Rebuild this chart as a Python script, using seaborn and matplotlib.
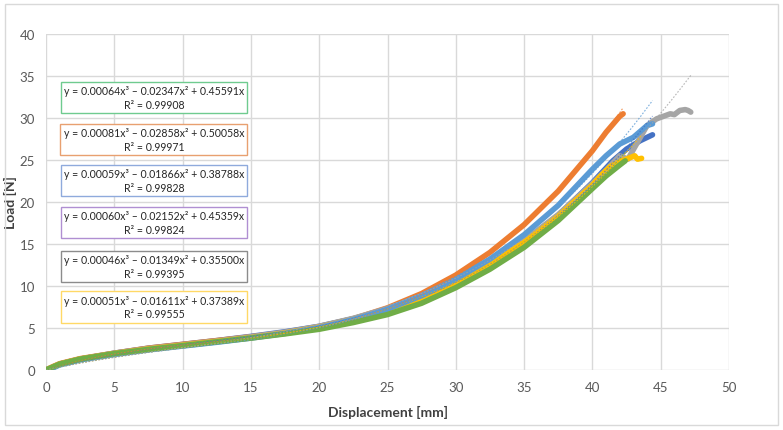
import numpy as np
import pandas as pd
import matplotlib
matplotlib.use("Agg")
import matplotlib.pyplot as plt
import seaborn as sns
from matplotlib.patches import FancyBboxPatch

# ---------------- data ----------------
series_names = ["Dark blue", "Orange", "Gray", "Yellow", "Light blue", "Green"]
series_colors = ["#4472C4", "#ED7D31", "#A5A5A5", "#FFC000", "#5B9BD5", "#70AD47"]

x_db = [0, 0.5, 1, 2.5, 5, 7.5, 10, 12.5, 15, 17.5, 20, 22.5, 25, 27.5, 30, 32.5, 35, 37.5, 40, 41.5, 42.5, 43.5, 44.4]
y_db = [0, 0.3, 0.7, 1.3, 2.0, 2.6, 3.05, 3.5, 4.0, 4.55, 5.2, 6.1, 7.2, 8.6, 10.4, 12.5, 15.2, 18.4, 22.3, 24.9, 26.3, 27.3, 28.0]

x_or = [0, 0.5, 1, 2.5, 5, 7.5, 10, 12.5, 15, 17.5, 20, 22.5, 25, 27.5, 30, 32.5, 35, 37.5, 40, 41, 42, 42.25]
y_or = [0, 0.4, 0.75, 1.35, 2.0, 2.6, 3.05, 3.5, 3.95, 4.45, 5.15, 6.1, 7.4, 9.1, 11.3, 14.0, 17.3, 21.3, 26.1, 28.3, 30.2, 30.5]

x_gr = [0, 0.5, 1, 2.5, 5, 7.5, 10, 12.5, 15, 17.5, 20, 22.5, 25, 27.5, 30, 32.5, 35, 37.5, 40, 41, 42, 42.6, 43.3, 44, 44.7, 45.2, 45.7, 46.0, 46.4, 46.8, 47.0, 47.2]
y_gr = [0, 0.35, 0.7, 1.3, 2.0, 2.55, 3.0, 3.45, 3.95, 4.5, 5.2, 6.15, 7.3, 8.8, 10.6, 12.8, 15.4, 18.5, 22.2, 23.8, 25.5, 25.1, 27.1, 29.1, 29.9, 30.2, 30.5, 30.4, 30.9, 31.0, 30.9, 30.7]

x_ye = [0, 0.5, 1, 2.5, 5, 7.5, 10, 12.5, 15, 17.5, 20, 22.5, 25, 27.5, 30, 32.5, 35, 37.5, 40, 40.6, 41.3, 42.0, 42.8, 43.1, 43.3, 43.6]
y_ye = [0, 0.35, 0.7, 1.3, 1.95, 2.5, 2.95, 3.4, 3.85, 4.4, 5.1, 6.0, 7.15, 8.6, 10.4, 12.6, 15.2, 18.3, 22.0, 23.1, 24.2, 24.8, 25.3, 25.5, 25.1, 25.2]

x_lb = [0, 0.5, 1, 2.5, 5, 7.5, 10, 12.5, 15, 17.5, 20, 22.5, 25, 27.5, 30, 32.5, 35, 37.5, 40, 41, 42, 43, 44, 44.4]
y_lb = [0, 0.25, 0.6, 1.2, 1.85, 2.4, 2.85, 3.3, 3.8, 4.35, 5.05, 6.0, 7.25, 8.85, 10.8, 13.2, 16.1, 19.6, 23.9, 25.5, 26.9, 27.7, 29.1, 29.3]

x_gn = [0, 0.5, 1, 2.5, 5, 7.5, 10, 12.5, 15, 17.5, 20, 22.5, 25, 27.5, 30, 32.5, 35, 37.5, 40, 41, 42, 42.4]
y_gn = [0, 0.35, 0.7, 1.3, 1.95, 2.45, 2.9, 3.35, 3.8, 4.3, 4.85, 5.65, 6.6, 7.95, 9.8, 12.0, 14.6, 17.8, 21.6, 23.1, 24.4, 24.9]

xs = [x_db, x_or, x_gr, x_ye, x_lb, x_gn]
ys = [y_db, y_or, y_gr, y_ye, y_lb, y_gn]

# polynomial trendline coefficients (a, b, c) for a*x^3 + b*x^2 + c*x
coef_db = [0.00060, -0.02152, 0.45359]
coef_or = [0.00081, -0.02858, 0.50058]
coef_gr = [0.00046, -0.01349, 0.35500]
coef_ye = [0.00051, -0.01611, 0.37389]
coef_lb = [0.00059, -0.01866, 0.38788]
coef_gn = [0.00064, -0.02347, 0.45591]
coefs = [coef_db, coef_or, coef_gr, coef_ye, coef_lb, coef_gn]

# equation labels (top to bottom in the chart)
eq_labels = [
    "y = 0.00064x³ – 0.02347x² + 0.45591x\nR² = 0.99908",
    "y = 0.00081x³ – 0.02858x² + 0.50058x\nR² = 0.99971",
    "y = 0.00059x³ – 0.01866x² + 0.38788x\nR² = 0.99828",
    "y = 0.00060x³ – 0.02152x² + 0.45359x\nR² = 0.99824",
    "y = 0.00046x³ – 0.01349x² + 0.35500x\nR² = 0.99395",
    "y = 0.00051x³ – 0.01611x² + 0.37389x\nR² = 0.99555",
]
eq_box_colors = ["#6FCB8F", "#E8A070", "#8FAADC", "#B08FD2", "#8C8C8C", "#FFD966"]
eq_y = [32.4, 27.4, 22.6, 17.6, 12.3, 7.5]

x_ticks = [0, 5, 10, 15, 20, 25, 30, 35, 40, 45, 50]
y_ticks = [0, 5, 10, 15, 20, 25, 30, 35, 40]

# ---------------- plot ----------------
sns.set_theme(style="white")
plt.rcParams["font.family"] = ["Lato", "DejaVu Sans"]

fig = plt.figure(figsize=(7.83, 4.31), dpi=100)
ax = fig.add_axes([46 / 783, 1 - 371 / 431, (729 - 46) / 783, (371 - 35) / 431])

# outer chart border
fig.patches.append(FancyBboxPatch((5 / 783, 5 / 431), 773 / 783, 421 / 431,
                                  boxstyle="square,pad=0", transform=fig.transFigure,
                                  fill=False, edgecolor="#D9D9D9", linewidth=1.0))

for name, x, y, col, cf in zip(series_names, xs, ys, series_colors, coefs):
    df = pd.DataFrame({"x": x, "y": y})
    sns.lineplot(data=df, x="x", y="y", sort=False, color=col, lw=4.0,
                 ax=ax, estimator=None, solid_capstyle="round",
                 solid_joinstyle="round", zorder=3)
    xt = np.linspace(0, max(x), 200)
    yt = np.polyval([cf[0], cf[1], cf[2], 0.0], xt)
    ax.plot(xt, yt, linestyle=(0, (1.5, 1.5)), lw=0.8, color=col, alpha=0.8, zorder=4)

ax.set_xlim(0, 50)
ax.set_ylim(0, 40)
ax.set_xticks(x_ticks)
ax.set_yticks(y_ticks)
ax.set_xticklabels([str(v) for v in x_ticks])
ax.set_yticklabels([str(v) for v in y_ticks])
ax.grid(True, color="#D9D9D9", lw=1.0, zorder=0)
for s in ax.spines.values():
    s.set_visible(False)
ax.tick_params(axis="both", length=0, labelsize=9.5, colors="#595959")
ax.tick_params(axis="x", pad=8)
ax.tick_params(axis="y", pad=8)
ax.set_xlabel("Displacement [mm]", fontsize=10, fontweight="bold", color="#404040")
ax.set_ylabel("Load [N]", fontsize=10, fontweight="bold", color="#404040")
ax.xaxis.set_label_coords(0.5, -(406 - 371) / 336, transform=ax.transAxes)
ax.yaxis.set_label_coords(-(46 - 17) / 683, 0.5, transform=ax.transAxes)

for lab, ec, yy in zip(eq_labels, eq_box_colors, eq_y):
    ax.text(7.9, yy, lab, ha="center", va="center", fontsize=7.6, color="#262626",
            linespacing=1.3, zorder=6,
            bbox=dict(boxstyle="square,pad=0.3", fc="white", ec=ec, lw=1.0))

fig.savefig("out.png", dpi=100)
